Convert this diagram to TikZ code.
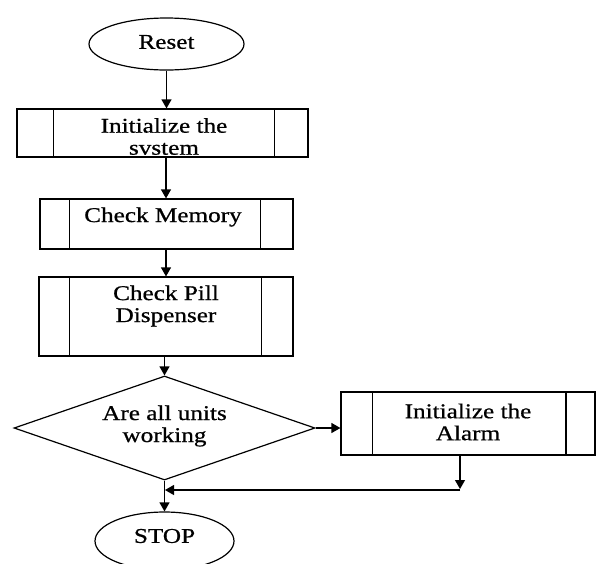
\documentclass[tikz,border=0pt]{standalone}
\usepackage{fontspec}
\setmainfont{Liberation Serif}[FakeStretch=1.2,FakeBold=0.7]
\usetikzlibrary{arrows.meta,shapes.geometric}
\begin{document}
\begin{tikzpicture}[x=1pt,y=-1pt,
  line width=1.2pt,
  txt/.style={align=center,inner sep=0pt,font=\fontsize{21}{22}\selectfont},
  term/.style={draw,ellipse,inner sep=0pt},
  proc/.style={draw,rectangle,inner sep=0pt},
  arr/.style={-{Triangle[length=9pt,width=10pt]}},
  sub/.style={line width=1.2pt}]
\useasboundingbox (0,0) rectangle (601,563);
\fill[white] (0,0) rectangle (601,563);
% Reset
\node[term,minimum width=155pt,minimum height=52pt] (reset) at (166.5,44) {};
\node[txt] (treset) at (166.5,42) {Reset};
% box 1
\node[proc,minimum width=291pt,minimum height=48pt] (b1) at (162.5,133) {};
\draw[sub] ([xshift=37pt]b1.north west) -- ([xshift=37pt]b1.south west);
\draw[sub] ([xshift=-34pt]b1.north east) -- ([xshift=-34pt]b1.south east);
\node[txt] (tb1) at (164,136.5) {Initialize the\\svstem};
% box 2
\node[proc,minimum width=253pt,minimum height=50pt] (b2) at (166.5,224) {};
\draw[sub] ([xshift=30pt]b2.north west) -- ([xshift=30pt]b2.south west);
\draw[sub] ([xshift=-33pt]b2.north east) -- ([xshift=-33pt]b2.south east);
\node[txt] (tb2) at (163,217) {Check Memory};
% box 3
\node[proc,minimum width=254pt,minimum height=79pt] (b3) at (166,316.5) {};
\draw[sub] ([xshift=31pt]b3.north west) -- ([xshift=31pt]b3.south west);
\draw[sub] ([xshift=-32pt]b3.north east) -- ([xshift=-32pt]b3.south east);
\node[txt] (tb3) at (166,306) {Check Pill\\Dispenser};
% decision
\node[draw,diamond,aspect=2.9,inner sep=0pt,minimum width=301pt,minimum height=104pt] (dec) at (164.5,428) {};
\node[txt] (tdec) at (164.5,426) {Are all units\\working};
% alarm
\node[proc,minimum width=254pt,minimum height=63pt] (al) at (468,423.5) {};
\draw[sub,line width=1.8pt] ([xshift=32pt]al.north west) -- ([xshift=32pt]al.south west);
\draw[sub,line width=1.8pt] ([xshift=-30pt]al.north east) -- ([xshift=-30pt]al.south east);
\node[txt] (tal) at (468,422) {Initialize the\\Alarm};
% STOP
\node[term,minimum width=139pt,minimum height=58pt] (stop) at (164.5,541) {};
\node[txt] (tstop) at (164.5,536) {STOP};
% connectors
\coordinate (a1) at (460,489);
\coordinate (a2) at (460,490);
\coordinate (j) at (165,490);
\draw[arr] (reset.south) -- (b1.north -| reset.south);
\draw[arr] (b1.south -| 166,0) -- (b2.north -| 166,0);
\draw[arr] (b2.south -| 166,0) -- (b3.north -| 166,0);
\draw[arr] (b3.south -| dec.north) -- (dec.north);
\draw[arr] (dec.east) -- (al.west |- dec.east);
\draw[arr] (al.south -| a1) -- (a1);
\draw[arr] (a2) -- (j);
\draw[arr] (dec.south) -- (stop.north -| dec.south);
\end{tikzpicture}
\end{document}
